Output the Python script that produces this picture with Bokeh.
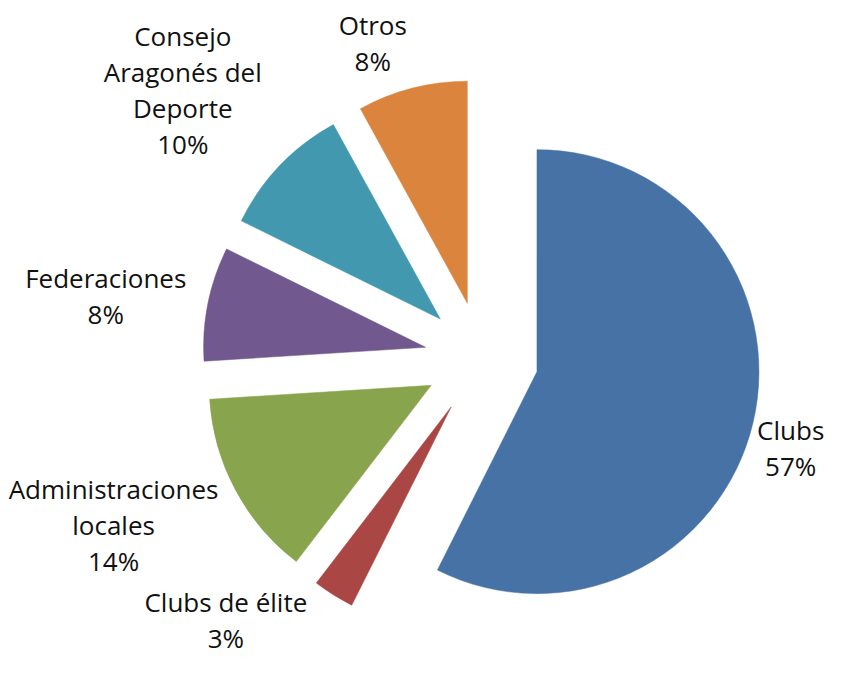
import math
from bokeh.plotting import figure
from bokeh.models import Range1d, ColumnDataSource
from bokeh.embed import file_html
from bokeh.resources import INLINE
from bokeh.core.properties import value

# ---- data ----
categories = ["Clubs", "Clubs de élite", "Administraciones locales",
              "Federaciones", "Consejo Aragonés del Deporte", "Otros"]
shares = [57.4, 3.0, 13.6, 8.3, 9.7, 8.0]
label_lines = [["Clubs"], ["Clubs de élite"], ["Administraciones", "locales"],
               ["Federaciones"], ["Consejo", "Aragonés del", "Deporte"], ["Otros"]]
colors = ["#4672A6", "#AA4644", "#88A54E", "#71588F", "#4198AF", "#DB843D"]

# ---- layout ----
W, H = 829, 658
TOP = 674                 # data y at the top edge of the figure
CX, CY = 481, TOP - 358
R = 222
EXPLODE = 57
label_angle = [106.2, 224.3, 245.6, 279.5, 312.0, 341.0]   # degrees clockwise from top
label_dist = [322, 366, 404, 381, 402, 334]
LINE = 36
FONT = "Open Sans"
FSIZE = "26px"

p = figure(width=W, height=H, output_backend="svg", toolbar_location=None,
           x_range=Range1d(0, W), y_range=Range1d(TOP - H, TOP),
           min_border=0)
p.axis.visible = False
p.grid.visible = False
p.outline_line_color = None
p.background_fill_color = "white"
p.border_fill_color = "white"

total = sum(shares)
cum = 0.0
wx, wy, ws, we = [], [], [], []
tx, ty, tt = [], [], []
for i, s in enumerate(shares):
    f0 = cum / total
    f1 = (cum + s) / total
    fm = (f0 + f1) / 2
    cum += s
    mid = 2 * math.pi * fm
    wx.append(CX + EXPLODE * math.sin(mid))
    wy.append(CY + EXPLODE * math.cos(mid))
    ws.append(math.pi / 2 - 2 * math.pi * f0)
    we.append(math.pi / 2 - 2 * math.pi * f1)
    lines = label_lines[i] + [f"{round(s)}%"]
    la = math.radians(label_angle[i])
    lx = CX + label_dist[i] * math.sin(la)
    ly = CY + label_dist[i] * math.cos(la)
    n = len(lines)
    for k, t in enumerate(lines):
        tx.append(lx)
        ty.append(ly + (n - 1) / 2 * LINE - k * LINE)
        tt.append(t)

src = ColumnDataSource(dict(x=wx, y=wy, start=ws, end=we, color=colors, name=categories))
p.wedge(x="x", y="y", radius=R, start_angle="start", end_angle="end",
        direction="clock", fill_color="color", line_color="color", line_width=0.5,
        source=src)

tsrc = ColumnDataSource(dict(x=tx, y=ty, text=tt))
p.text(x="x", y="y", text="text", source=tsrc, text_align="center",
       text_baseline="middle", text_font=value(FONT), text_font_size=FSIZE,
       text_color="#111111")

open("out.html", "w").write(file_html(p, INLINE))
